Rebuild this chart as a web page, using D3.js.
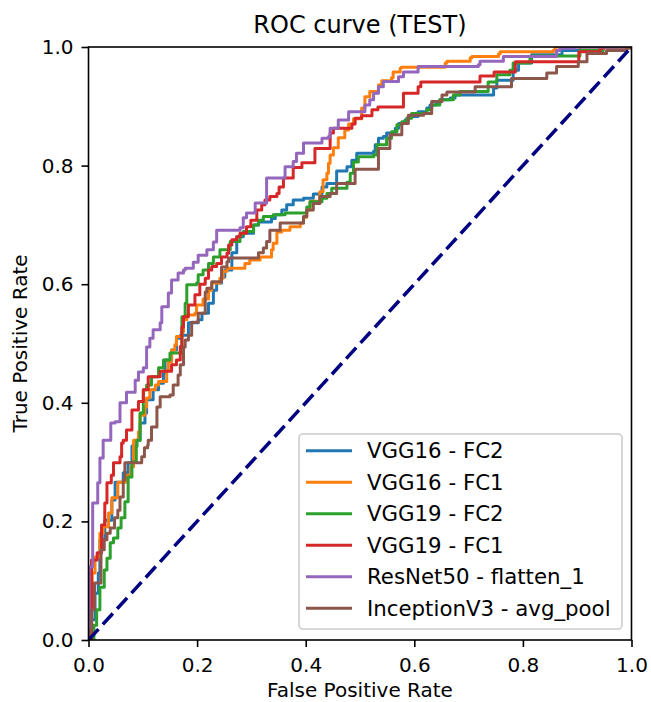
<!DOCTYPE html>
<html>
<head>
<meta charset="utf-8">
<script src="https://cdn.jsdelivr.net/npm/d3@7"></script>
<style>
  html, body { margin: 0; padding: 0; background: #ffffff; }
  svg { display: block; font-family: "DejaVu Sans", sans-serif; }
</style>
</head>
<body>
<svg id="chart" width="651" height="702"></svg>
<script>
// ---- data (fpr, tpr) : tpr value reached at each fpr step ----
const vgg16_fc2 = [[0,0],[0.005,0.034],[0.012,0.079],[0.018,0.113],[0.021,0.169],[0.030,0.202],[0.043,0.236],[0.049,0.266],[0.064,0.282],[0.073,0.299],[0.080,0.327],[0.089,0.337],[0.095,0.366],[0.104,0.383],[0.107,0.405],[0.119,0.422],[0.129,0.433],[0.138,0.450],[0.141,0.472],[0.153,0.489],[0.162,0.509],[0.169,0.514],[0.184,0.535],[0.202,0.540],[0.209,0.551],[0.221,0.568],[0.230,0.590],[0.236,0.602],[0.245,0.612],[0.251,0.624],[0.264,0.653],[0.273,0.680],[0.285,0.686],[0.304,0.700],[0.313,0.705],[0.337,0.711],[0.344,0.717],[0.356,0.725],[0.365,0.734],[0.377,0.742],[0.396,0.745],[0.414,0.752],[0.430,0.764],[0.439,0.770],[0.457,0.791],[0.476,0.798],[0.485,0.809],[0.494,0.821],[0.525,0.824],[0.528,0.835],[0.534,0.846],[0.543,0.849],[0.549,0.855],[0.565,0.863],[0.571,0.871],[0.583,0.877],[0.589,0.883],[0.607,0.891],[0.623,0.897],[0.629,0.902],[0.641,0.905],[0.647,0.911],[0.666,0.914],[0.675,0.919],[0.746,0.931],[0.752,0.944],[0.782,0.961],[0.792,0.973],[0.816,0.987],[0.872,0.994],[0.905,1],[1,1]];

const vgg16_fc1 = [[0,0],[0.003,0.068],[0.007,0.113],[0.012,0.140],[0.021,0.180],[0.027,0.191],[0.037,0.214],[0.043,0.240],[0.054,0.266],[0.070,0.278],[0.078,0.292],[0.083,0.337],[0.092,0.351],[0.095,0.379],[0.104,0.393],[0.107,0.408],[0.113,0.422],[0.123,0.430],[0.129,0.436],[0.144,0.455],[0.147,0.469],[0.153,0.489],[0.159,0.498],[0.162,0.512],[0.172,0.520],[0.175,0.540],[0.181,0.548],[0.196,0.551],[0.199,0.565],[0.211,0.575],[0.221,0.590],[0.227,0.602],[0.242,0.610],[0.248,0.622],[0.255,0.627],[0.288,0.635],[0.297,0.641],[0.316,0.646],[0.337,0.658],[0.340,0.669],[0.347,0.688],[0.356,0.691],[0.371,0.697],[0.390,0.703],[0.396,0.713],[0.402,0.725],[0.408,0.740],[0.426,0.756],[0.432,0.776],[0.439,0.787],[0.442,0.804],[0.445,0.818],[0.451,0.830],[0.460,0.847],[0.472,0.860],[0.479,0.870],[0.488,0.879],[0.503,0.897],[0.509,0.916],[0.518,0.925],[0.534,0.936],[0.540,0.943],[0.558,0.948],[0.561,0.958],[0.574,0.964],[0.576,0.966],[0.657,0.973],[0.660,0.976],[0.703,0.982],[0.706,0.984],[0.755,0.988],[0.758,0.992],[0.856,0.994],[0.859,1],[1,1]];

const vgg19_fc2 = [[0,0],[0.010,0.025],[0.015,0.051],[0.021,0.089],[0.029,0.118],[0.034,0.138],[0.040,0.164],[0.046,0.172],[0.054,0.189],[0.060,0.206],[0.067,0.233],[0.073,0.275],[0.080,0.300],[0.088,0.326],[0.089,0.337],[0.095,0.383],[0.101,0.422],[0.107,0.430],[0.116,0.444],[0.129,0.459],[0.138,0.472],[0.150,0.484],[0.172,0.545],[0.178,0.568],[0.181,0.599],[0.199,0.602],[0.202,0.616],[0.211,0.624],[0.221,0.635],[0.230,0.646],[0.242,0.658],[0.261,0.672],[0.279,0.683],[0.285,0.689],[0.304,0.700],[0.313,0.708],[0.322,0.714],[0.340,0.717],[0.362,0.720],[0.402,0.730],[0.408,0.739],[0.430,0.745],[0.439,0.753],[0.448,0.762],[0.476,0.772],[0.482,0.787],[0.488,0.806],[0.497,0.815],[0.525,0.818],[0.531,0.835],[0.549,0.846],[0.558,0.857],[0.568,0.869],[0.577,0.874],[0.586,0.880],[0.595,0.888],[0.623,0.894],[0.632,0.902],[0.647,0.911],[0.672,0.919],[0.684,0.925],[0.736,0.941],[0.752,0.953],[0.776,0.961],[0.782,0.973],[0.813,0.981],[0.816,0.985],[0.905,0.994],[0.948,1],[1,1]];

const vgg19_fc1 = [[0,0],[0.0055,0.135],[0.016,0.147],[0.024,0.194],[0.030,0.231],[0.034,0.265],[0.042,0.278],[0.046,0.299],[0.058,0.309],[0.061,0.332],[0.064,0.337],[0.070,0.354],[0.080,0.388],[0.092,0.402],[0.101,0.422],[0.110,0.444],[0.132,0.453],[0.153,0.464],[0.162,0.472],[0.169,0.495],[0.172,0.528],[0.175,0.545],[0.184,0.565],[0.196,0.582],[0.205,0.600],[0.215,0.610],[0.221,0.624],[0.227,0.630],[0.236,0.635],[0.245,0.646],[0.255,0.652],[0.258,0.666],[0.264,0.675],[0.273,0.680],[0.279,0.686],[0.291,0.697],[0.299,0.708],[0.310,0.725],[0.319,0.734],[0.325,0.742],[0.334,0.748],[0.347,0.753],[0.351,0.764],[0.359,0.779],[0.377,0.797],[0.393,0.805],[0.417,0.829],[0.445,0.855],[0.451,0.863],[0.485,0.870],[0.491,0.880],[0.503,0.884],[0.522,0.894],[0.533,0.899],[0.580,0.922],[0.607,0.933],[0.612,0.941],[0.721,0.951],[0.747,0.958],[0.786,0.975],[0.903,0.992],[0.942,0.998],[0.949,1],[1,1]];

const resnet50_flatten = [[0,0],[0.0015,0.123],[0.0077,0.231],[0.017,0.265],[0.021,0.307],[0.027,0.337],[0.041,0.366],[0.049,0.368],[0.058,0.400],[0.070,0.418],[0.086,0.438],[0.092,0.452],[0.101,0.459],[0.107,0.494],[0.113,0.509],[0.119,0.523],[0.132,0.535],[0.135,0.562],[0.147,0.585],[0.153,0.607],[0.165,0.619],[0.175,0.624],[0.178,0.627],[0.193,0.637],[0.202,0.649],[0.218,0.658],[0.230,0.671],[0.236,0.691],[0.279,0.695],[0.285,0.712],[0.291,0.720],[0.307,0.737],[0.328,0.779],[0.362,0.798],[0.377,0.807],[0.383,0.821],[0.396,0.838],[0.430,0.846],[0.442,0.849],[0.445,0.863],[0.460,0.877],[0.479,0.891],[0.509,0.902],[0.518,0.911],[0.525,0.922],[0.534,0.933],[0.543,0.942],[0.571,0.950],[0.580,0.958],[0.607,0.967],[0.718,0.970],[0.721,0.976],[0.764,0.984],[0.862,0.994],[0.868,0.998],[0.896,1],[1,1]];

const inceptionv3_avgpool = [[0,0],[0.003,0.017],[0.006,0.051],[0.011,0.096],[0.023,0.152],[0.029,0.169],[0.034,0.180],[0.040,0.189],[0.048,0.206],[0.054,0.219],[0.058,0.241],[0.064,0.270],[0.067,0.299],[0.098,0.309],[0.103,0.324],[0.109,0.329],[0.110,0.337],[0.116,0.359],[0.126,0.393],[0.132,0.410],[0.150,0.413],[0.156,0.430],[0.165,0.447],[0.169,0.464],[0.175,0.494],[0.178,0.506],[0.184,0.514],[0.190,0.536],[0.202,0.551],[0.215,0.587],[0.218,0.593],[0.227,0.604],[0.245,0.629],[0.255,0.638],[0.258,0.644],[0.313,0.653],[0.322,0.661],[0.328,0.672],[0.334,0.691],[0.353,0.703],[0.396,0.714],[0.402,0.725],[0.414,0.736],[0.426,0.748],[0.445,0.753],[0.457,0.770],[0.491,0.794],[0.534,0.829],[0.555,0.852],[0.577,0.871],[0.589,0.885],[0.617,0.888],[0.632,0.908],[0.651,0.919],[0.660,0.924],[0.712,0.933],[0.779,0.947],[0.844,0.956],[0.862,0.967],[0.902,0.975],[0.918,0.989],[0.954,0.994],[0.991,0.998],[1,1]];

const seriesNames = ["VGG16 - FC2", "VGG16 - FC1", "VGG19 - FC2", "VGG19 - FC1", "ResNet50 - flatten_1", "InceptionV3 - avg_pool"];
const seriesColors = ["#1f77b4", "#ff7f0e", "#2ca02c", "#d62728", "#9467bd", "#8c564b"];
const seriesData = [vgg16_fc2, vgg16_fc1, vgg19_fc2, vgg19_fc1, resnet50_flatten, inceptionv3_avgpool];
const chanceLine = [[0,0],[1,1]];
const xTicks = [0, 0.2, 0.4, 0.6, 0.8, 1.0];
const yTicks = [0, 0.2, 0.4, 0.6, 0.8, 1.0];

// ---- layout ----
const L = 88.5, R = 631.5, T = 47, B = 640;
const svg = d3.select("#chart");
const x = d3.scaleLinear().domain([0, 1]).range([L, R]);
const y = d3.scaleLinear().domain([0, 1]).range([B, T]);

svg.append("defs").append("clipPath").attr("id", "plotclip")
  .append("rect").attr("x", L).attr("y", T).attr("width", R - L).attr("height", B - T);

const plot = svg.append("g").attr("clip-path", "url(#plotclip)");

const line = d3.line().x(d => x(d[0])).y(d => y(d[1])).curve(d3.curveStepAfter);

seriesData.forEach((s, i) => {
  plot.append("path").datum(s)
    .attr("d", line)
    .attr("fill", "none")
    .attr("stroke", seriesColors[i])
    .attr("stroke-width", 3)
    .attr("stroke-linejoin", "round");
});

plot.append("path").datum(chanceLine)
  .attr("d", d3.line().x(d => x(d[0])).y(d => y(d[1])))
  .attr("fill", "none")
  .attr("stroke", "#000080")
  .attr("stroke-width", 3.5)
  .attr("stroke-dasharray", "14.8,6.4");

// ---- axes ----
const fmt = d3.format(".1f");
const xAxis = svg.append("g").attr("transform", `translate(0,${B})`)
  .call(d3.axisBottom(x).tickValues(xTicks).tickFormat(fmt).tickSize(7).tickSizeOuter(0).tickPadding(11));
const yAxis = svg.append("g").attr("transform", `translate(${L},0)`)
  .call(d3.axisLeft(y).tickValues(yTicks).tickFormat(fmt).tickSize(7).tickSizeOuter(0).tickPadding(8));
[xAxis, yAxis].forEach(a => {
  a.select(".domain").remove();
  a.selectAll(".tick line").attr("stroke", "#000").attr("stroke-width", 1.6);
  a.selectAll(".tick text").attr("fill", "#000").style("font-size", "20px").style("font-family", "DejaVu Sans");
});

svg.append("rect").attr("x", L).attr("y", T).attr("width", R - L).attr("height", B - T)
  .attr("fill", "none").attr("stroke", "#000").attr("stroke-width", 1.6);

// ---- labels ----
svg.append("text").attr("x", (L + R) / 2).attr("y", 33).attr("text-anchor", "middle")
  .style("font-size", "24px").text("ROC curve (TEST)");
svg.append("text").attr("x", (L + R) / 2).attr("y", 696.5).attr("text-anchor", "middle")
  .style("font-size", "20px").text("False Positive Rate");
svg.append("text").attr("transform", `translate(27,${(T + B) / 2}) rotate(-90)`).attr("text-anchor", "middle")
  .style("font-size", "20px").text("True Positive Rate");

// ---- legend ----
const lg = svg.append("g");
lg.append("rect").attr("x", 299).attr("y", 434).attr("width", 323).attr("height", 195)
  .attr("rx", 4).attr("fill", "#fff").attr("fill-opacity", 0.8)
  .attr("stroke", "#cccccc").attr("stroke-width", 1.6);
const rowY = d3.scaleLinear().domain([0, 5]).range([450.7, 608.3]);
seriesNames.forEach((n, i) => {
  lg.append("line").attr("x1", 306).attr("x2", 352).attr("y1", rowY(i)).attr("y2", rowY(i))
    .attr("stroke", seriesColors[i]).attr("stroke-width", 3);
  lg.append("text").attr("x", 367).attr("y", rowY(i)).attr("dy", "0.36em")
    .style("font-size", "21.3px").text(n);
});
</script>
</body>
</html>
